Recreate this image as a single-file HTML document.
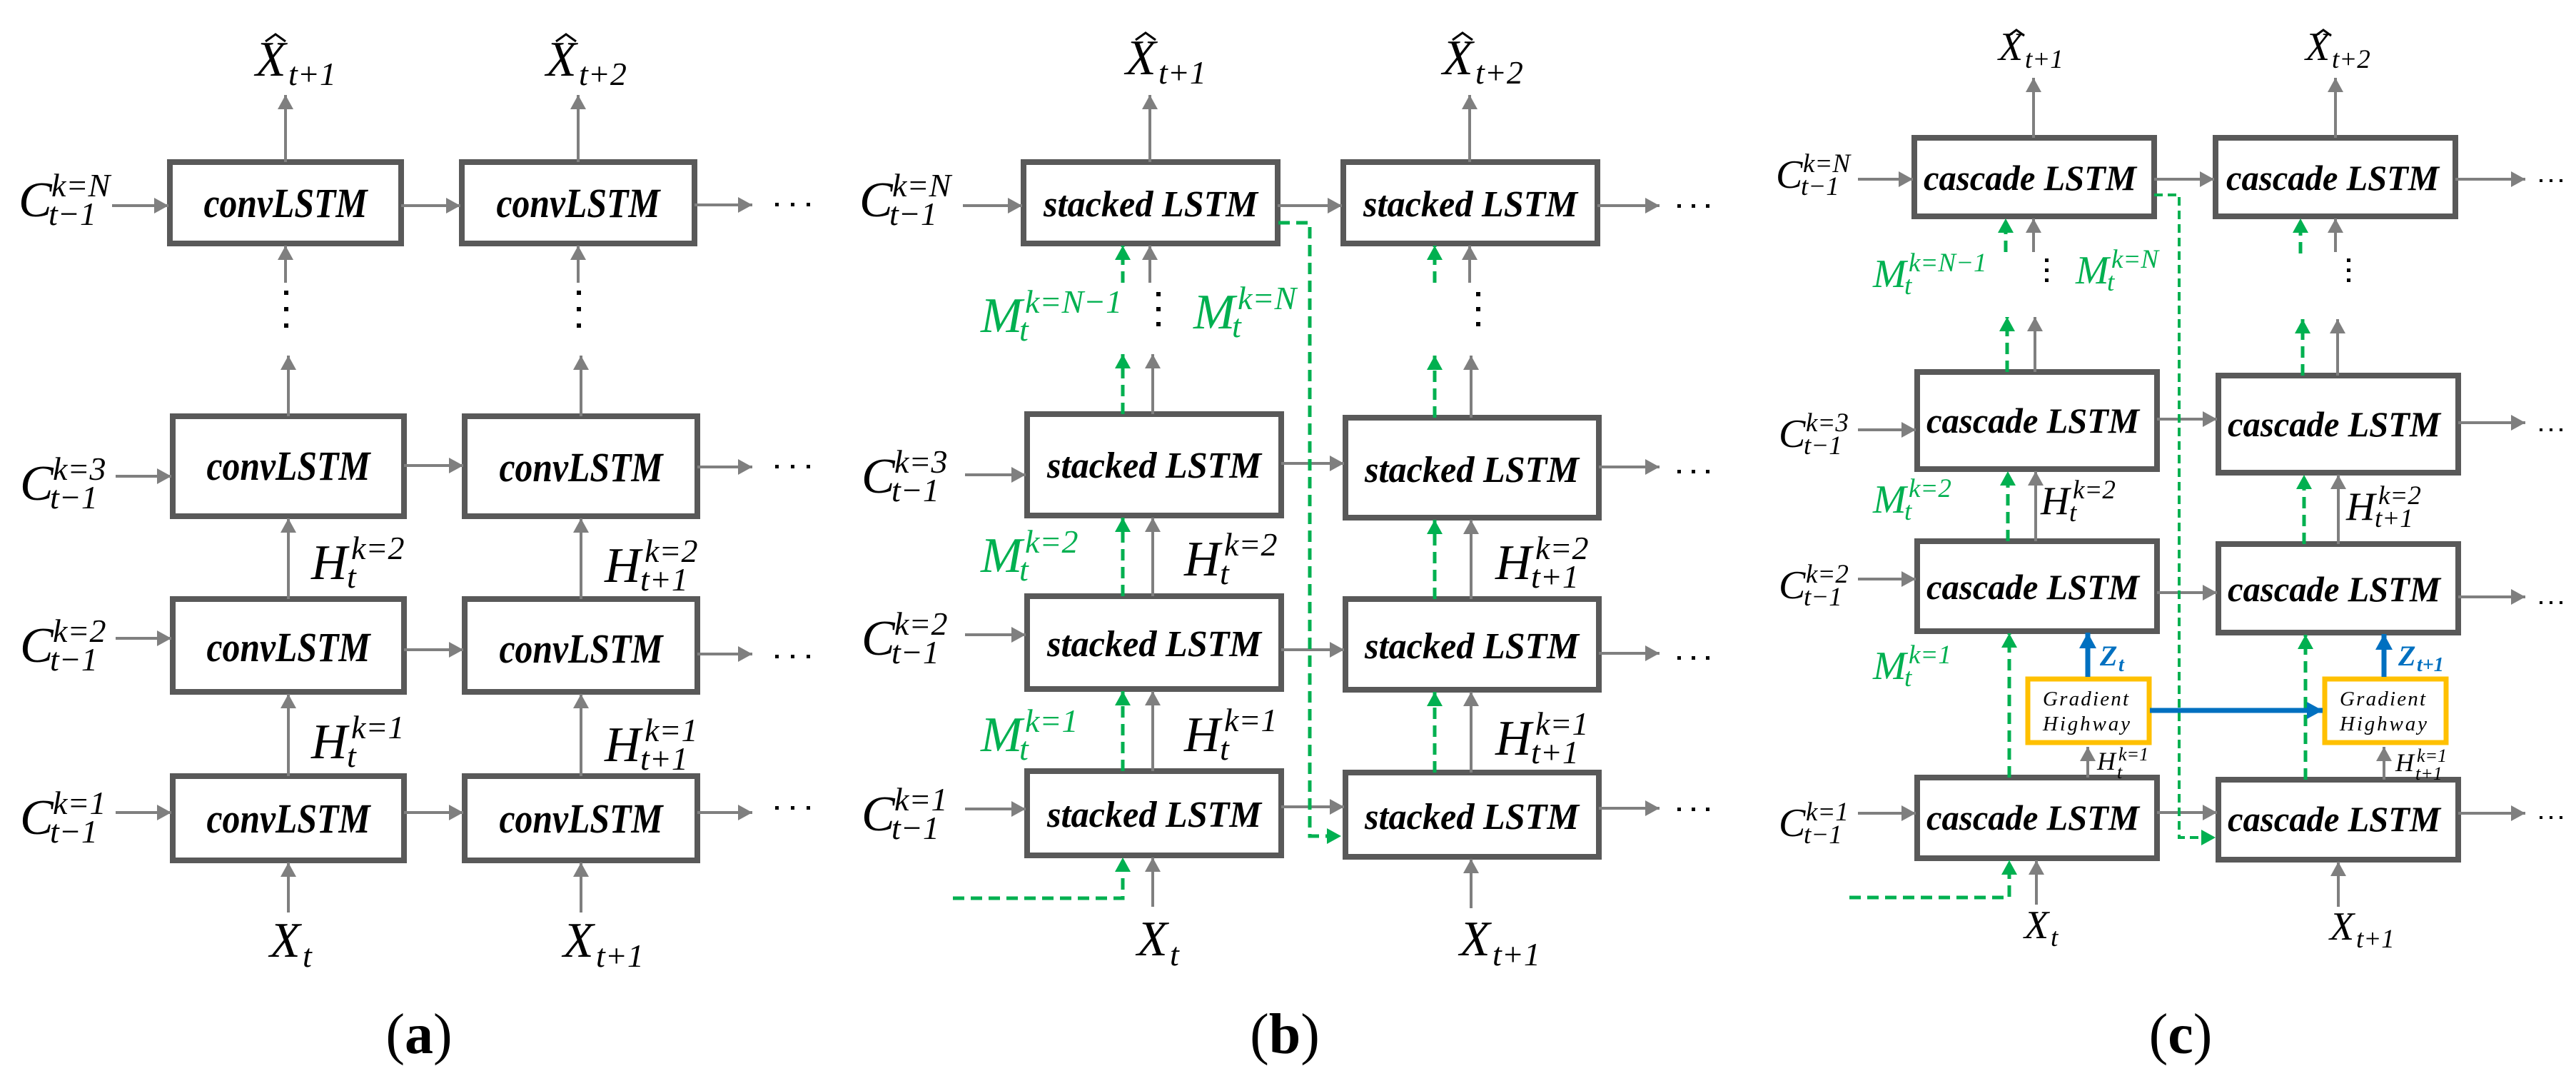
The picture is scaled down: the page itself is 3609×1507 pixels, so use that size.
<!DOCTYPE html>
<html><head><meta charset="utf-8">
<style>
html,body{margin:0;padding:0;background:#fff;}
svg{display:block;}
.m{font-family:"Liberation Serif",serif;font-style:italic;font-size:70px;}
.s{font-family:"Liberation Serif",serif;font-style:italic;font-size:46px;}
.cm{font-family:"Liberation Serif",serif;font-style:italic;font-size:56px;}
.cs{font-family:"Liberation Serif",serif;font-style:italic;font-size:37px;}
.bx{font-family:"Liberation Serif",serif;font-style:italic;font-weight:bold;}
.g{fill:#00b050;}
.cap{font-family:"Liberation Serif",serif;font-size:80px;}
</style></head><body>
<svg width="3609" height="1507" viewBox="0 0 3609 1507" xmlns="http://www.w3.org/2000/svg">
<defs>
<marker id="ag" markerUnits="userSpaceOnUse" markerWidth="22" markerHeight="22" refX="20" refY="11" orient="auto"><path d="M0,0 L20,11 L0,22 z" fill="#7f7f7f"/></marker>
<marker id="agr" markerUnits="userSpaceOnUse" markerWidth="22" markerHeight="22" refX="20" refY="11" orient="auto"><path d="M0,0 L20,11 L0,22 z" fill="#00b050"/></marker>
<marker id="ab" markerUnits="userSpaceOnUse" markerWidth="24" markerHeight="24" refX="22" refY="12" orient="auto"><path d="M0,0 L22,12 L0,24 z" fill="#0070c0"/></marker>
</defs>

<!-- ================= PANEL A ================= -->
<g fill="#fff" stroke="#595959" stroke-width="8">
<rect x="238" y="227" width="324" height="114"/>
<rect x="647" y="227" width="326" height="114"/>
<rect x="242" y="583" width="324" height="140"/>
<rect x="651" y="583" width="326" height="140"/>
<rect x="242" y="839" width="324" height="130"/>
<rect x="651" y="839" width="326" height="130"/>
<rect x="242" y="1087" width="324" height="118"/>
<rect x="651" y="1087" width="326" height="118"/>
</g>
<g class="bx" font-size="58" text-anchor="middle">
<text x="400" y="304" textLength="229" lengthAdjust="spacingAndGlyphs">convLSTM</text>
<text x="810" y="304" textLength="229" lengthAdjust="spacingAndGlyphs">convLSTM</text>
<text x="404" y="672" textLength="229" lengthAdjust="spacingAndGlyphs">convLSTM</text>
<text x="814" y="674" textLength="229" lengthAdjust="spacingAndGlyphs">convLSTM</text>
<text x="404" y="926" textLength="229" lengthAdjust="spacingAndGlyphs">convLSTM</text>
<text x="814" y="928" textLength="229" lengthAdjust="spacingAndGlyphs">convLSTM</text>
<text x="404" y="1166" textLength="229" lengthAdjust="spacingAndGlyphs">convLSTM</text>
<text x="814" y="1166" textLength="229" lengthAdjust="spacingAndGlyphs">convLSTM</text>
</g>
<g stroke="#7f7f7f" stroke-width="4" fill="none" marker-end="url(#ag)">
<line x1="157" y1="288" x2="236" y2="288"/>
<line x1="562" y1="288" x2="645" y2="288"/>
<line x1="973" y1="287" x2="1054" y2="287"/>
<line x1="162" y1="667" x2="240" y2="667"/>
<line x1="566" y1="652" x2="649" y2="652"/>
<line x1="977" y1="654" x2="1054" y2="654"/>
<line x1="162" y1="894" x2="240" y2="894"/>
<line x1="566" y1="910" x2="649" y2="910"/>
<line x1="977" y1="916" x2="1054" y2="916"/>
<line x1="162" y1="1138" x2="240" y2="1138"/>
<line x1="566" y1="1138" x2="649" y2="1138"/>
<line x1="977" y1="1138" x2="1054" y2="1138"/>
<line x1="400" y1="227" x2="400" y2="133"/>
<line x1="810" y1="227" x2="810" y2="133"/>
<line x1="400" y1="396" x2="400" y2="344"/>
<line x1="810" y1="396" x2="810" y2="344"/>
<line x1="404" y1="583" x2="404" y2="498"/>
<line x1="814" y1="583" x2="814" y2="498"/>
<line x1="404" y1="839" x2="404" y2="726"/>
<line x1="814" y1="839" x2="814" y2="726"/>
<line x1="404" y1="1087" x2="404" y2="972"/>
<line x1="814" y1="1087" x2="814" y2="972"/>
<line x1="404" y1="1278" x2="404" y2="1208"/>
<line x1="814" y1="1278" x2="814" y2="1208"/>
</g>
<g fill="#000">
<rect x="398" y="407" width="6" height="6"/><rect x="398" y="430" width="6" height="6"/><rect x="398" y="453" width="6" height="6"/>
<rect x="808" y="407" width="6" height="6"/><rect x="808" y="430" width="6" height="6"/><rect x="808" y="453" width="6" height="6"/>
<rect x="1086" y="284" width="5" height="5"/><rect x="1108" y="284" width="5" height="5"/><rect x="1130" y="284" width="5" height="5"/>
<rect x="1086" y="651" width="5" height="5"/><rect x="1108" y="651" width="5" height="5"/><rect x="1130" y="651" width="5" height="5"/>
<rect x="1086" y="917" width="5" height="5"/><rect x="1108" y="917" width="5" height="5"/><rect x="1130" y="917" width="5" height="5"/>
<rect x="1086" y="1129" width="5" height="5"/><rect x="1108" y="1129" width="5" height="5"/><rect x="1130" y="1129" width="5" height="5"/>
</g>
<!-- labels A -->
<text class="m" x="26" y="303">C</text><text class="s" x="72" y="275">k=N</text><text class="s" x="68" y="315">t−1</text>
<text class="m" x="28" y="700">C</text><text class="s" x="74" y="672">k=3</text><text class="s" x="70" y="712">t−1</text>
<text class="m" x="28" y="927">C</text><text class="s" x="74" y="899">k=2</text><text class="s" x="70" y="939">t−1</text>
<text class="m" x="28" y="1168">C</text><text class="s" x="74" y="1140">k=1</text><text class="s" x="70" y="1180">t−1</text>
<text class="m" x="436" y="811">H</text><text class="s" x="492" y="783">k=2</text><text class="s" x="486" y="823">t</text>
<text class="m" x="436" y="1062">H</text><text class="s" x="492" y="1034">k=1</text><text class="s" x="486" y="1074">t</text>
<text class="m" x="847" y="815">H</text><text class="s" x="903" y="787">k=2</text><text class="s" x="897" y="827">t+1</text>
<text class="m" x="847" y="1066">H</text><text class="s" x="903" y="1038">k=1</text><text class="s" x="897" y="1078">t+1</text>
<text class="m" x="378" y="1340">X</text><text class="s" x="424" y="1354">t</text>
<text class="m" x="789" y="1340">X</text><text class="s" x="835" y="1354">t+1</text>
<text class="m" x="358" y="106">X</text><text class="s" x="404" y="119">t+1</text>
<path d="M372,58 L386,48 L400,58" stroke="#000" stroke-width="3" fill="none"/>
<text class="m" x="765" y="106">X</text><text class="s" x="811" y="119">t+2</text>
<path d="M779,58 L793,48 L807,58" stroke="#000" stroke-width="3" fill="none"/>
<text class="cap" x="587" y="1475" text-anchor="middle">(<tspan font-weight="bold">a</tspan>)</text>

<!-- ================= PANEL B ================= -->
<g fill="#fff" stroke="#595959" stroke-width="8">
<rect x="1434" y="227" width="356" height="114"/>
<rect x="1882" y="227" width="356" height="114"/>
<rect x="1439" y="580" width="356" height="142"/>
<rect x="1885" y="585" width="355" height="140"/>
<rect x="1439" y="835" width="356" height="130"/>
<rect x="1885" y="839" width="355" height="127"/>
<rect x="1439" y="1080" width="356" height="118"/>
<rect x="1885" y="1082" width="355" height="118"/>
</g>
<g class="bx" font-size="52" text-anchor="middle">
<text x="1612" y="303" textLength="300" lengthAdjust="spacingAndGlyphs">stacked LSTM</text>
<text x="2060" y="303" textLength="300" lengthAdjust="spacingAndGlyphs">stacked LSTM</text>
<text x="1617" y="669" textLength="300" lengthAdjust="spacingAndGlyphs">stacked LSTM</text>
<text x="2062" y="675" textLength="300" lengthAdjust="spacingAndGlyphs">stacked LSTM</text>
<text x="1617" y="919" textLength="300" lengthAdjust="spacingAndGlyphs">stacked LSTM</text>
<text x="2062" y="922" textLength="300" lengthAdjust="spacingAndGlyphs">stacked LSTM</text>
<text x="1617" y="1158" textLength="300" lengthAdjust="spacingAndGlyphs">stacked LSTM</text>
<text x="2062" y="1161" textLength="300" lengthAdjust="spacingAndGlyphs">stacked LSTM</text>
</g>
<g stroke="#7f7f7f" stroke-width="4" fill="none" marker-end="url(#ag)">
<line x1="1349" y1="288" x2="1432" y2="288"/>
<line x1="1790" y1="288" x2="1880" y2="288"/>
<line x1="2238" y1="288" x2="2325" y2="288"/>
<line x1="1352" y1="665" x2="1437" y2="665"/>
<line x1="1795" y1="649" x2="1883" y2="649"/>
<line x1="2240" y1="654" x2="2325" y2="654"/>
<line x1="1352" y1="889" x2="1437" y2="889"/>
<line x1="1795" y1="910" x2="1883" y2="910"/>
<line x1="2240" y1="915" x2="2325" y2="915"/>
<line x1="1352" y1="1133" x2="1437" y2="1133"/>
<line x1="1795" y1="1130" x2="1883" y2="1130"/>
<line x1="2240" y1="1132" x2="2325" y2="1132"/>
<line x1="1611" y1="227" x2="1611" y2="133"/>
<line x1="2059" y1="227" x2="2059" y2="133"/>
<line x1="1611" y1="396" x2="1611" y2="344"/>
<line x1="2059" y1="396" x2="2059" y2="344"/>
<line x1="1615" y1="580" x2="1615" y2="496"/>
<line x1="2061" y1="585" x2="2061" y2="498"/>
<line x1="1615" y1="835" x2="1615" y2="725"/>
<line x1="2061" y1="839" x2="2061" y2="728"/>
<line x1="1615" y1="1080" x2="1615" y2="968"/>
<line x1="2061" y1="1082" x2="2061" y2="969"/>
<line x1="1615" y1="1270" x2="1615" y2="1201"/>
<line x1="2061" y1="1272" x2="2061" y2="1203"/>
</g>
<g stroke="#00b050" stroke-width="5" fill="none" stroke-dasharray="16 9" marker-end="url(#agr)">
<line x1="1573" y1="396" x2="1573" y2="344"/>
<line x1="2010" y1="396" x2="2010" y2="344"/>
<line x1="1573" y1="580" x2="1573" y2="496"/>
<line x1="2010" y1="585" x2="2010" y2="498"/>
<line x1="1573" y1="835" x2="1573" y2="725"/>
<line x1="2010" y1="839" x2="2010" y2="728"/>
<line x1="1573" y1="1080" x2="1573" y2="968"/>
<line x1="2010" y1="1082" x2="2010" y2="969"/>
<polyline points="1335,1258 1573,1258 1573,1201"/>
<polyline points="1791,312 1835,312 1835,1171 1879,1171"/>
</g>
<g fill="#000">
<rect x="1620" y="409" width="6" height="6"/><rect x="1620" y="430" width="6" height="6"/><rect x="1620" y="451" width="6" height="6"/>
<rect x="2068" y="409" width="6" height="6"/><rect x="2068" y="430" width="6" height="6"/><rect x="2068" y="451" width="6" height="6"/>
<rect x="2350" y="286" width="5" height="5"/><rect x="2370" y="286" width="5" height="5"/><rect x="2390" y="286" width="5" height="5"/>
<rect x="2350" y="658" width="5" height="5"/><rect x="2370" y="658" width="5" height="5"/><rect x="2390" y="658" width="5" height="5"/>
<rect x="2350" y="919" width="5" height="5"/><rect x="2370" y="919" width="5" height="5"/><rect x="2390" y="919" width="5" height="5"/>
<rect x="2350" y="1131" width="5" height="5"/><rect x="2370" y="1131" width="5" height="5"/><rect x="2390" y="1131" width="5" height="5"/>
</g>
<text class="m" x="1204" y="303">C</text><text class="s" x="1250" y="275">k=N</text><text class="s" x="1246" y="315">t−1</text>
<text class="m" x="1207" y="690">C</text><text class="s" x="1253" y="662">k=3</text><text class="s" x="1249" y="702">t−1</text>
<text class="m" x="1207" y="917">C</text><text class="s" x="1253" y="889">k=2</text><text class="s" x="1249" y="929">t−1</text>
<text class="m" x="1207" y="1163">C</text><text class="s" x="1253" y="1135">k=1</text><text class="s" x="1249" y="1175">t−1</text>
<g class="g">
<text class="m" x="1374" y="465">M</text><text class="s" x="1436" y="438">k=N−1</text><text class="s" x="1428" y="477">t</text>
<text class="m" x="1672" y="460">M</text><text class="s" x="1734" y="433">k=N</text><text class="s" x="1726" y="472">t</text>
<text class="m" x="1374" y="801">M</text><text class="s" x="1436" y="774">k=2</text><text class="s" x="1428" y="813">t</text>
<text class="m" x="1374" y="1052">M</text><text class="s" x="1436" y="1025">k=1</text><text class="s" x="1428" y="1064">t</text>
</g>
<text class="m" x="1659" y="806">H</text><text class="s" x="1715" y="778">k=2</text><text class="s" x="1709" y="818">t</text>
<text class="m" x="1659" y="1052">H</text><text class="s" x="1715" y="1024">k=1</text><text class="s" x="1709" y="1064">t</text>
<text class="m" x="2095" y="811">H</text><text class="s" x="2151" y="783">k=2</text><text class="s" x="2145" y="823">t+1</text>
<text class="m" x="2095" y="1057">H</text><text class="s" x="2151" y="1029">k=1</text><text class="s" x="2145" y="1069">t+1</text>
<text class="m" x="1593" y="1338">X</text><text class="s" x="1639" y="1352">t</text>
<text class="m" x="2045" y="1338">X</text><text class="s" x="2091" y="1352">t+1</text>
<text class="m" x="1577" y="104">X</text><text class="s" x="1623" y="117">t+1</text>
<path d="M1591,56 L1605,46 L1619,56" stroke="#000" stroke-width="3" fill="none"/>
<text class="m" x="2021" y="104">X</text><text class="s" x="2067" y="117">t+2</text>
<path d="M2035,56 L2049,46 L2063,56" stroke="#000" stroke-width="3" fill="none"/>
<text class="cap" x="1800" y="1475" text-anchor="middle">(<tspan font-weight="bold">b</tspan>)</text>

<!-- ================= PANEL C ================= -->
<g fill="#fff" stroke="#595959" stroke-width="8">
<rect x="2682" y="193" width="336" height="110"/>
<rect x="3104" y="193" width="336" height="110"/>
<rect x="2686" y="521" width="336" height="136"/>
<rect x="3108" y="526" width="336" height="136"/>
<rect x="2686" y="758" width="336" height="126"/>
<rect x="3108" y="762" width="336" height="124"/>
<rect x="2686" y="1089" width="336" height="113"/>
<rect x="3108" y="1092" width="336" height="112"/>
</g>
<g class="bx" font-size="50" text-anchor="middle">
<text x="2844" y="266" textLength="298" lengthAdjust="spacingAndGlyphs">cascade LSTM</text>
<text x="3268" y="266" textLength="298" lengthAdjust="spacingAndGlyphs">cascade LSTM</text>
<text x="2848" y="606" textLength="298" lengthAdjust="spacingAndGlyphs">cascade LSTM</text>
<text x="3270" y="611" textLength="298" lengthAdjust="spacingAndGlyphs">cascade LSTM</text>
<text x="2848" y="839" textLength="298" lengthAdjust="spacingAndGlyphs">cascade LSTM</text>
<text x="3270" y="842" textLength="298" lengthAdjust="spacingAndGlyphs">cascade LSTM</text>
<text x="2848" y="1162" textLength="298" lengthAdjust="spacingAndGlyphs">cascade LSTM</text>
<text x="3270" y="1164" textLength="298" lengthAdjust="spacingAndGlyphs">cascade LSTM</text>
</g>
<g stroke="#7f7f7f" stroke-width="4" fill="none" marker-end="url(#ag)">
<line x1="2603" y1="251" x2="2680" y2="251"/>
<line x1="3018" y1="251" x2="3102" y2="251"/>
<line x1="3440" y1="251" x2="3538" y2="251"/>
<line x1="2603" y1="602" x2="2684" y2="602"/>
<line x1="3022" y1="587" x2="3106" y2="587"/>
<line x1="3444" y1="592" x2="3538" y2="592"/>
<line x1="2603" y1="811" x2="2684" y2="811"/>
<line x1="3022" y1="830" x2="3106" y2="830"/>
<line x1="3444" y1="836" x2="3538" y2="836"/>
<line x1="2603" y1="1139" x2="2684" y2="1139"/>
<line x1="3022" y1="1138" x2="3106" y2="1138"/>
<line x1="3444" y1="1139" x2="3538" y2="1139"/>
<line x1="2849" y1="193" x2="2849" y2="109"/>
<line x1="3272" y1="193" x2="3272" y2="109"/>
<line x1="2849" y1="353" x2="2849" y2="306"/>
<line x1="3272" y1="353" x2="3272" y2="306"/>
<line x1="2851" y1="521" x2="2851" y2="444"/>
<line x1="3275" y1="526" x2="3275" y2="447"/>
<line x1="2852" y1="758" x2="2852" y2="660"/>
<line x1="3276" y1="762" x2="3276" y2="665"/>
<line x1="2925" y1="1089" x2="2925" y2="1046"/>
<line x1="3340" y1="1092" x2="3340" y2="1046"/>
<line x1="2853" y1="1267" x2="2853" y2="1205"/>
<line x1="3276" y1="1270" x2="3276" y2="1207"/>
</g>
<g stroke="#00b050" stroke-width="5" fill="none" stroke-dasharray="16 9" marker-end="url(#agr)">
<line x1="2810" y1="353" x2="2810" y2="306"/>
<line x1="3223" y1="355" x2="3223" y2="306"/>
<line x1="2812" y1="521" x2="2812" y2="444"/>
<line x1="3226" y1="526" x2="3226" y2="447"/>
<line x1="2813" y1="758" x2="2813" y2="660"/>
<line x1="3228" y1="762" x2="3228" y2="665"/>
<line x1="2815" y1="1089" x2="2815" y2="887"/>
<line x1="3230" y1="1092" x2="3230" y2="889"/>
<polyline points="2591,1257 2815,1257 2815,1205"/>
</g>
<polyline points="3018,273 3053,273 3053,1173 3104,1173" stroke="#00b050" stroke-width="4" fill="none" stroke-dasharray="12 7" marker-end="url(#agr)"/>
<!-- gradient highway -->
<rect x="2841" y="951" width="170" height="89" fill="#fff" stroke="#ffc000" stroke-width="7"/>
<rect x="3257" y="951" width="170" height="89" fill="#fff" stroke="#ffc000" stroke-width="7"/>
<g font-family="Liberation Serif, serif" font-style="italic" font-size="29">
<text x="2862" y="988" textLength="120" lengthAdjust="spacing">Gradient</text>
<text x="2862" y="1023" textLength="122" lengthAdjust="spacing">Highway</text>
<text x="3278" y="988" textLength="120" lengthAdjust="spacing">Gradient</text>
<text x="3278" y="1023" textLength="122" lengthAdjust="spacing">Highway</text>
</g>
<g stroke="#0070c0" stroke-width="7" fill="none" marker-end="url(#ab)">
<line x1="2925" y1="948" x2="2925" y2="886"/>
<line x1="3340" y1="948" x2="3340" y2="888"/>
<line x1="3012" y1="995" x2="3254" y2="995"/>
</g>
<g fill="#0070c0" font-family="Liberation Serif, serif" font-style="italic" font-weight="bold">
<text x="2942" y="932" font-size="40">Z</text><text x="2968" y="940" font-size="28">t</text>
<text x="3360" y="932" font-size="40">Z</text><text x="3386" y="940" font-size="28">t+1</text>
</g>
<text x="2938" y="1078" font-family="Liberation Serif, serif" font-style="italic" font-size="36">H</text>
<text x="2968" y="1065" font-family="Liberation Serif, serif" font-style="italic" font-size="26">k=1</text>
<text x="2966" y="1090" font-family="Liberation Serif, serif" font-style="italic" font-size="26">t</text>
<text x="3356" y="1080" font-family="Liberation Serif, serif" font-style="italic" font-size="36">H</text>
<text x="3386" y="1067" font-family="Liberation Serif, serif" font-style="italic" font-size="26">k=1</text>
<text x="3384" y="1092" font-family="Liberation Serif, serif" font-style="italic" font-size="26">t+1</text>
<g fill="#000">
<rect x="2865" y="362" width="5" height="5"/><rect x="2865" y="376" width="5" height="5"/><rect x="2865" y="390" width="5" height="5"/>
<rect x="3288" y="362" width="5" height="5"/><rect x="3288" y="376" width="5" height="5"/><rect x="3288" y="390" width="5" height="5"/>
<rect x="3558" y="251" width="4" height="4"/><rect x="3572" y="251" width="4" height="4"/><rect x="3586" y="251" width="4" height="4"/>
<rect x="3558" y="600" width="4" height="4"/><rect x="3572" y="600" width="4" height="4"/><rect x="3586" y="600" width="4" height="4"/>
<rect x="3558" y="842" width="4" height="4"/><rect x="3572" y="842" width="4" height="4"/><rect x="3586" y="842" width="4" height="4"/>
<rect x="3558" y="1143" width="4" height="4"/><rect x="3572" y="1143" width="4" height="4"/><rect x="3586" y="1143" width="4" height="4"/>
</g>
<text class="cm" x="2488" y="263">C</text><text class="cs" x="2526" y="241">k=N</text><text class="cs" x="2523" y="273">t−1</text>
<text class="cm" x="2492" y="626">C</text><text class="cs" x="2530" y="604">k=3</text><text class="cs" x="2527" y="636">t−1</text>
<text class="cm" x="2492" y="838">C</text><text class="cs" x="2530" y="816">k=2</text><text class="cs" x="2527" y="848">t−1</text>
<text class="cm" x="2492" y="1171">C</text><text class="cs" x="2530" y="1149">k=1</text><text class="cs" x="2527" y="1181">t−1</text>
<g class="g">
<text class="cm" x="2624" y="402">M</text><text class="cs" x="2674" y="380">k=N−1</text><text class="cs" x="2668" y="412">t</text>
<text class="cm" x="2908" y="397">M</text><text class="cs" x="2958" y="375">k=N</text><text class="cs" x="2952" y="407">t</text>
<text class="cm" x="2624" y="718">M</text><text class="cs" x="2674" y="696">k=2</text><text class="cs" x="2668" y="728">t</text>
<text class="cm" x="2624" y="951">M</text><text class="cs" x="2674" y="929">k=1</text><text class="cs" x="2668" y="961">t</text>
</g>
<text class="cm" x="2859" y="720">H</text><text class="cs" x="2904" y="698">k=2</text><text class="cs" x="2899" y="730">t</text>
<text class="cm" x="3287" y="728">H</text><text class="cs" x="3332" y="706">k=2</text><text class="cs" x="3327" y="738">t+1</text>
<text class="cm" x="2836" y="1314">X</text><text class="cs" x="2873" y="1325">t</text>
<text class="cm" x="3264" y="1316">X</text><text class="cs" x="3301" y="1327">t+1</text>
<text class="cm" x="2800" y="84">X</text><text class="cs" x="2837" y="95">t+1</text>
<path d="M2814,50 L2825,42 L2836,50" stroke="#000" stroke-width="3" fill="none"/>
<text class="cm" x="3230" y="84">X</text><text class="cs" x="3267" y="95">t+2</text>
<path d="M3244,50 L3255,42 L3266,50" stroke="#000" stroke-width="3" fill="none"/>
<text class="cap" x="3055" y="1475" text-anchor="middle">(<tspan font-weight="bold">c</tspan>)</text>
</svg>
</body></html>
